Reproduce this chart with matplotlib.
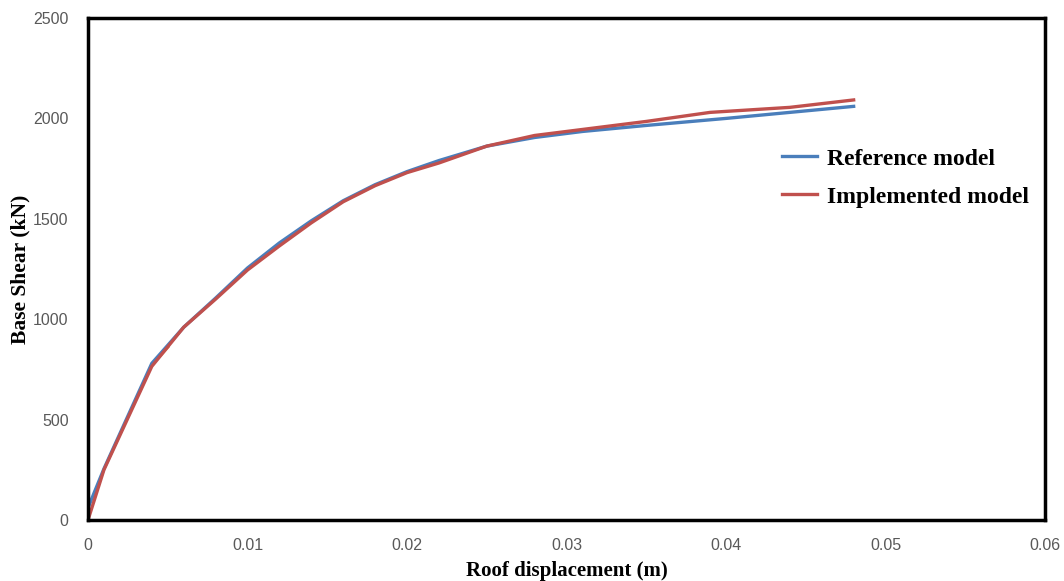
import numpy as np
import matplotlib.pyplot as plt

# Pushover curves: roof displacement (m) vs base shear (kN)
disp_ref = [0.0, 0.001, 0.004, 0.006, 0.008, 0.010, 0.012, 0.014, 0.016, 0.018,
            0.020, 0.022, 0.025, 0.028, 0.031, 0.035, 0.040, 0.044, 0.048]
shear_ref = [60, 255, 780, 960, 1105, 1255, 1380, 1490, 1590, 1670,
             1735, 1790, 1862, 1905, 1935, 1965, 2000, 2030, 2060]

disp_impl = [0.0, 0.001, 0.004, 0.006, 0.008, 0.010, 0.012, 0.014, 0.016, 0.018,
             0.020, 0.022, 0.025, 0.028, 0.031, 0.035, 0.039, 0.044, 0.048]
shear_impl = [0, 250, 765, 960, 1100, 1245, 1365, 1480, 1585, 1665,
              1730, 1778, 1862, 1915, 1945, 1985, 2030, 2055, 2092]

disp_aux = [0.0042, 0.0050]
shear_aux = [790, 860]

fig = plt.figure(figsize=(10.64, 5.81), dpi=100)
ax = fig.add_axes([0.0827, 0.105, 0.8995, 0.864])

ax.plot(disp_aux, shear_aux, color='#F79646', lw=2.2)
ax.plot(disp_ref, shear_ref, color='#4A7EBB', lw=2.4, label='Reference model')
ax.plot(disp_impl, shear_impl, color='#C0504D', lw=2.4, label='Implemented model')

ax.set_xlim(0, 0.06)
ax.set_ylim(0, 2500)
ax.set_xticks([0, 0.01, 0.02, 0.03, 0.04, 0.05, 0.06])
ax.set_xticklabels(['0', '0.01', '0.02', '0.03', '0.04', '0.05', '0.06'])
ax.set_yticks([0, 500, 1000, 1500, 2000, 2500])
ax.tick_params(length=0, labelsize=11.5, labelcolor='#595959')
ax.tick_params(axis='x', pad=13)
ax.tick_params(axis='y', pad=14)
for lab in ax.get_xticklabels() + ax.get_yticklabels():
    lab.set_family('Liberation Sans')

for sp in ax.spines.values():
    sp.set_linewidth(2.5)
    sp.set_color('black')

ax.set_xlabel('Roof displacement (m)', family='Liberation Serif', fontsize=15,
              fontweight='bold')
ax.set_ylabel('Base Shear (kN)', family='Liberation Serif', fontsize=15.5,
              fontweight='bold')
ax.xaxis.set_label_coords(0.5, -0.082)
ax.yaxis.set_label_coords(-0.06, 0.5)

ax.legend(loc='upper left', bbox_to_anchor=(0.725, 0.741), frameon=False,
          prop={'family': 'Liberation Serif', 'weight': 'bold', 'size': 17},
          handlelength=1.5, handletextpad=0.4, labelspacing=0.7,
          borderpad=0, borderaxespad=0)

fig.savefig('out.png', dpi=100)
